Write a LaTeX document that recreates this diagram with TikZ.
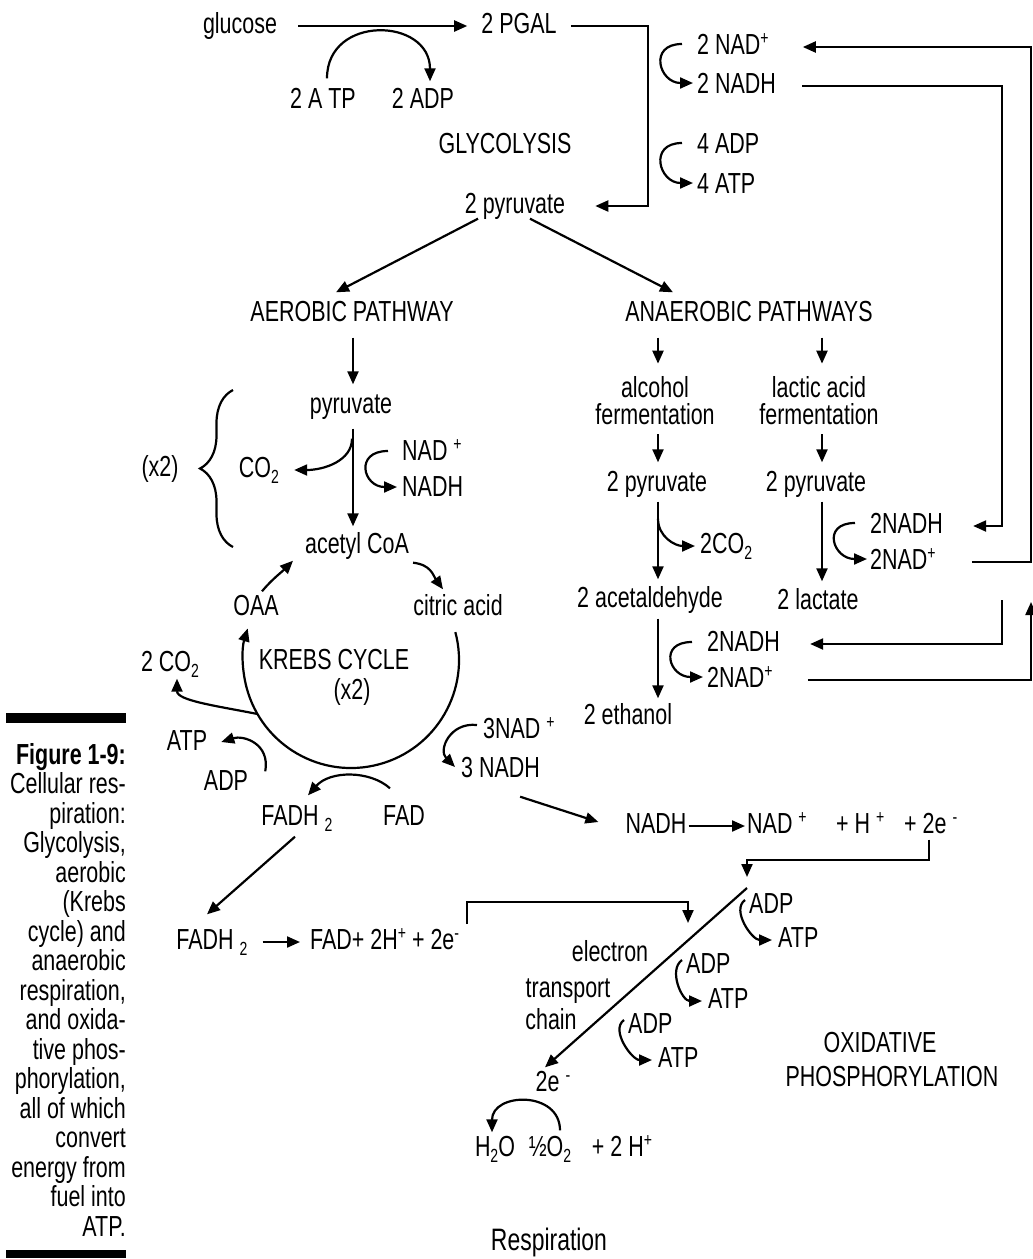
\documentclass[tikz,border=0pt]{standalone}
\usepackage{fontspec}
\setmainfont{Liberation Sans}[FakeStretch=0.74]
\usetikzlibrary{arrows.meta,calc,decorations.pathreplacing}

\newcommand{\chup}[1]{\raisebox{0.33em}{\fontsize{19}{19}\selectfont #1}}
\newcommand{\chdn}[1]{\raisebox{-0.2em}{\fontsize{19}{19}\selectfont #1}}

\tikzset{
  lbl/.style={inner sep=2pt, text height=20pt, text depth=5pt},
  lbltwo/.style={inner sep=1pt, align=center, font=\fontsize{29}{27}\selectfont},
  arr/.style={line width=2.2pt, -{Triangle[length=13pt,width=11pt]}},
  ln/.style={line width=2.2pt},
}

\begin{document}
\begin{tikzpicture}[x=1pt, y=-1pt, font=\fontsize{29}{29.5}\selectfont]
\useasboundingbox (0,0) rectangle (1033,1259);

% glycolysis
\node[lbl] (glucose) at (240,26) {glucose};
\node[lbl] (pgal) at (519,26) {2 PGAL};
\node[lbl] (atp2) at (323,101) {2 A TP};
\node[lbl] (adp2) at (423,101) {2 ADP};
\node[lbl] (glyco) at (505,146) {GLYCOLYSIS};
\node[lbl] (pyr2) at (515,206) {2 pyruvate};
\node[lbl, anchor=west] (nadp1) at (695,47) {2 NAD\chup{+}};
\node[lbl, anchor=west] (nadh1) at (695,86) {2 NADH};
\node[lbl, anchor=west] (adp4) at (695,146) {4 ADP};
\node[lbl, anchor=west] (atp4) at (695,186) {4 ATP};
\coordinate (glyR) at (648,0);
\coordinate (busA) at (1002,0);
\coordinate (busB) at (1031,0);

\draw[arr, shorten <=19pt, shorten >=12pt] (glucose) -- (pgal);
\draw[arr] ($(atp2.north)+(4,-8)$) .. controls +(0,-64) and +(0,-64) .. ($(adp2.north)+(7,-5)$);
\draw[arr] ($(pgal.east)+(12,0)$) -| (glyR |- pyr2) -- ($(pyr2.east)+(28,0)$);
\draw[arr] ($(nadp1.west)+(-13,-3)$) .. controls +(-34,0) and +(-34,0) .. ($(nadh1.west)+(-2,-3)$);
\draw[arr] ($(adp4.west)+(-13,-3)$) .. controls +(-34,0) and +(-34,0) .. ($(atp4.west)+(-2,-3)$);

% pathways
\node[lbl] (aer) at (352,314) {AEROBIC PATHWAY};
\node[lbl] (anaer) at (749,314) {ANAEROBIC PATHWAYS};
\draw[arr] ($(pyr2.south)+(-37,-2)$) -- ($(aer.north)+(-16,-7)$);
\draw[arr] ($(pyr2.south)+(15,-2)$) -- ($(anaer.north)+(-76,-7)$);

% aerobic pathway
\coordinate (colP) at (353,0);
\node[lbl] (pyr) at (351,406) {pyruvate};
\node[lbl] (x2a) at (160,469) {(x2)};
\node[lbl] (co2) at (259,470) {CO\chdn{2}};
\node[lbl, anchor=west] (nadp2) at (400,453) {NAD \chup{+}};
\node[lbl, anchor=west] (nadh2) at (400,489) {NADH};
\node[lbl] (acoa) at (357,546) {acetyl CoA};
\coordinate (brTop) at (233,390);
\coordinate (brBot) at (233,547);

\draw[arr] ($(colP |- aer.south)+(0,9)$) -- ($(colP |- pyr.north)+(0,-7)$);
\draw[arr] ($(colP |- pyr.south)+(0,8)$) -- ($(colP |- acoa.north)+(0,-5)$);
\draw[arr] ($(colP |- pyr.south)+(-1,18)$) .. controls +(0,22) and +(30,0) .. ($(co2.east)+(13,0)$);
\draw[arr] ($(nadp2.west)+(-12,-2)$) .. controls +(-34,0) and +(-34,0) .. ($(nadh2.west)+(-3,-2)$);
\draw[ln, decorate, decoration={brace, amplitude=33pt}] (brBot) -- (brTop);

% krebs cycle
\node[lbl] (oaa) at (256,608) {OAA};
\node[lbl] (citric) at (458,608) {citric acid};
\node[lbl, inner sep=0pt] (krebs) at (334,662) {KREBS CYCLE};
\node[lbl, inner sep=0pt] (krebsx) at (352,692) {(x2)};
\node[lbl] (co2k) at (170,664) {2 CO\chdn{2}};
\node[lbl] (atpk) at (187,743) {ATP};
\node[lbl] (adpk) at (226,783) {ADP};
\node[lbl] (fadh) at (297,818) {FADH \chdn{2}};
\node[lbl] (fad) at (404,818) {FAD};
\node[lbl, anchor=west] (nad3) at (481,731) {3NAD \chup{+}};
\node[lbl, anchor=west] (nadh3) at (459,770) {3 NADH};
\coordinate (kc) at (351,660);

\draw[arr] ($(oaa.north)+(6,-2)$) .. controls +(10,-12) and +(-12,12) .. ($(acoa.south)+(-64,0)$);
\draw[arr] ($(acoa.south east)+(2,2)$) .. controls +(18,2) and +(-10,-14) .. ($(citric.north)+(-15,-4)$);
\draw[arr] (kc) ++(-15:108) arc[start angle=-15, end angle=197, radius=108];
\draw[arr] (kc) ++(150:108) .. controls +(-40,-8) and +(0,22) .. ($(co2k.south)+(7,0)$);
\draw[arr] ($(adpk.north east)+(15,3)$) .. controls +(5,-28) and +(22,-7) .. ($(atpk.east)+(12,-1)$);
\draw[arr] ($(fad.north)+(-14,-15)$) .. controls +(-20,-18) and +(22,-25) .. ($(fadh.north)+(11,-8)$);
\draw[arr] ($(nad3.west)+(-4,-6)$) .. controls +(-27,-3) and +(-17,-17) .. ($(nadh3.west)+(-4,-3)$);

% anaerobic pathways
\coordinate (colA) at (658,0);
\coordinate (colL) at (822,0);
\node[lbltwo] (alc) at (655,401) {alcohol\\fermentation};
\node[lbltwo] (lac) at (819,401) {lactic acid\\fermentation};
\node[lbl] (pyrA) at (657,484) {2 pyruvate};
\node[lbl] (pyrL) at (816,484) {2 pyruvate};
\node[lbl, anchor=west] (co2b) at (698,546) {2CO\chdn{2}};
\node[lbl, anchor=west] (nadhL) at (868,526) {2NADH};
\node[lbl, anchor=west] (nadL) at (868,562) {2NAD\chup{+}};
\node[lbl] (acet) at (650,600) {2 acetaldehyde};
\node[lbl] (lact) at (818,602) {2 lactate};
\node[lbl, anchor=west] (nadhE) at (705,644) {2NADH};
\node[lbl, anchor=west] (nadE) at (705,680) {2NAD\chup{+}};
\node[lbl] (ethanol) at (628,717) {2 ethanol};
\coordinate (busC) at (1002,600);
\coordinate (busD) at (1031,602);

\draw[arr] ($(colA |- anaer.south)+(0,9)$) -- ($(colA |- alc.north)+(0,-12)$);
\draw[arr] ($(colL |- anaer.south)+(0,9)$) -- ($(colL |- lac.north)+(0,-12)$);
\draw[arr] ($(colA |- alc.south)+(0,8)$) -- ($(colA |- pyrA.north)+(0,-7)$);
\draw[arr] ($(colL |- lac.south)+(0,8)$) -- ($(colL |- pyrL.north)+(0,-7)$);
\draw[arr] ($(colA |- pyrA.south)+(0,3)$) -- ($(colA |- acet.north)+(0,-6)$);
\draw[arr] ($(colL |- pyrL.south)+(0,3)$) -- ($(colL |- lact.north)+(0,-6)$);
\draw[arr] ($(colA |- acet.south)+(0,4)$) -- ($(colA |- ethanol.north)+(0,-4)$);
\draw[arr] ($(colA |- pyrA.south)+(0,20)$) .. controls +(0,18) and +(-20,0) .. ($(co2b.west)+(-3,0)$);
\draw[arr] ($(nadhL.west)+(-13,-3)$) .. controls +(-34,0) and +(-34,0) .. ($(nadL.west)+(-1,-3)$);
\draw[arr] ($(nadhE.west)+(-13,-2)$) .. controls +(-34,0) and +(-34,0) .. ($(nadE.west)+(-2,-3)$);

% returns of NAD
\draw[arr] ($(nadh1.east)+(24,0)$) -| (busA |- nadhL) -- ($(nadhL.east)+(28,0)$);
\draw[arr] ($(nadL.east)+(34,0)$) -| (busB |- nadp1) -- ($(nadp1.east)+(32,0)$);
\draw[arr] (busC) |- ($(nadhE.east)+(28,0)$);
\draw[arr] ($(nadE.east)+(33,0)$) -| (busD);

% oxidative phosphorylation
\node[lbl] (nadhO) at (656,826) {NADH};
\node[lbl, anchor=west] (nadO) at (745,826) {NAD \chup{+}};
\node[lbl, anchor=west] (hO) at (834,826) {+ H \chup{+}};
\node[lbl, anchor=west] (eO) at (902,826) {+ 2e \chup{-}};
\node[lbl] (fadh2) at (212,942) {FADH \chdn{2}};
\node[lbl, anchor=west] (fadp) at (308,942) {FAD+ 2H\chup{+} + 2e\chup{-}};
\node[lbl, anchor=west] (adpA) at (747,906) {ADP};
\node[lbl, anchor=west] (atpA) at (776,940) {ATP};
\node[lbl, anchor=west] (adpB) at (684,966) {ADP};
\node[lbl, anchor=west] (atpB) at (706,1001) {ATP};
\node[lbl, anchor=west] (adpC) at (626,1026) {ADP};
\node[lbl, anchor=west] (atpC) at (656,1060) {ATP};
\node[lbl] (electron) at (610,954) {electron};
\node[lbl] (transport) at (568,990) {transport};
\node[lbl] (chain) at (551,1022) {chain};
\node[lbl] (oxid) at (880,1045) {OXIDATIVE};
\node[lbl] (phos) at (892,1079) {PHOSPHORYLATION};
\node[lbl] (e2) at (553,1084) {2e \chup{-}};
\node[lbl] (h2o) at (495,1149) {H\chdn{2}O};
\node[lbl] (o2) at (550,1149) {½O\chdn{2}};
\node[lbl] (h2p) at (622,1149) {+ 2 H\chup{+}};
\node[lbl, font=\fontsize{31}{31}\selectfont] (resp) at (549,1243) {Respiration};
\coordinate (etcTop) at (747,888);
\coordinate (etcFad) at (688,923);

\draw[arr] ($(nadh3.south east)+(-22,12)$) -- ($(nadhO.west)+(-25,-4)$);
\draw[arr] (nadhO) -- (nadO);
\draw[arr] ($(eO.south west)+(27,-1)$) -- ++(0,20) -| ($(etcTop)+(0,-11)$);
\draw[arr, shorten <=13pt, shorten >=8pt] (fadh2) -- (fadp);
\draw[arr] ($(fadh.south)+(-2,4)$) -- ($(fadh2.north)+(-5,-13)$);
\draw[arr] ($(fadp.east)+(6,-18)$) -- ++(0,-22) -| (etcFad);
\draw[arr] (etcTop) -- ($(e2.north)+(-8,-2)$);
\draw[arr] ($(adpA.west)+(-2,-6)$) .. controls +(-14,10) and +(-20,0) .. ($(atpA.west)+(-4,0)$);
\draw[arr] ($(adpB.west)+(-2,-6)$) .. controls +(-14,10) and +(-20,0) .. ($(atpB.west)+(-4,0)$);
\draw[arr] ($(adpC.west)+(-2,-6)$) .. controls +(-14,10) and +(-20,0) .. ($(atpC.west)+(-4,0)$);
\draw[arr] ($(o2.north)+(10,-4)$) .. controls +(0,-40) and +(0,-40) .. ($(h2o.north)+(-3,-2)$);

% caption
\fill (6,713) rectangle (126,723);
\fill (6,1250) rectangle (126,1258);
\node[anchor=north east, align=right, inner sep=0pt] (caption) at (126,743)
  {\textbf{Figure 1-9:}\\Cellular res-\\piration:\\Glycolysis,\\aerobic\\(Krebs\\cycle) and\\anaerobic\\respiration,\\and oxida-\\tive phos-\\phorylation,\\all of which\\convert\\energy from\\fuel into\\ATP.};
\end{tikzpicture}
\end{document}
